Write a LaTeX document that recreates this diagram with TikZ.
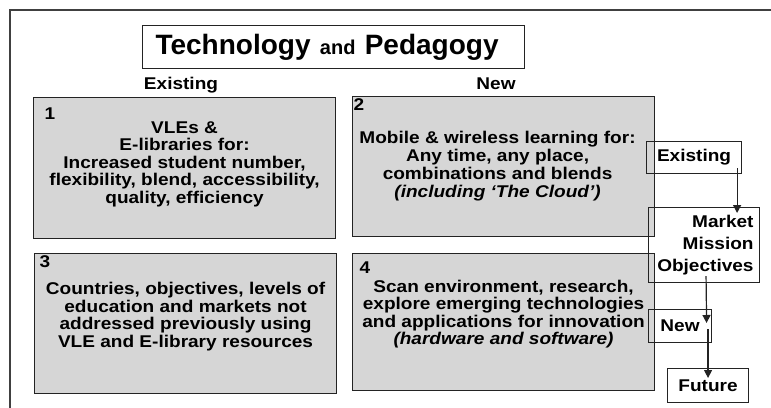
\documentclass[tikz,border=0pt]{standalone}
\usepackage{fontspec}
\setmainfont{Liberation Sans}[FakeStretch=1.12]
\newfontfamily\titlefont{Liberation Sans}
\usepackage{xcolor}
\usetikzlibrary{arrows.meta, positioning}

\definecolor{boxgray}{RGB}{214,214,214}
\definecolor{edge}{RGB}{35,35,35}

\begin{document}
\begin{tikzpicture}[
		x=1bp, y=-1bp,
		line width=1.1bp,
		every node/.style={font=\bfseries\fontsize{17bp}{17.5bp}\selectfont, inner sep=0pt},
		quad box/.style={draw=edge, fill=boxgray, anchor=north west, minimum width=302bp},
		quad text/.style={align=center},
		num/.style={anchor=base west},
		tag box/.style={draw=edge, anchor=north west},
		desc/.style={anchor=base},
		arr/.style={-{Triangle[length=8bp, width=8bp]}, line width=1.2bp, edge}
		]
	
	\useasboundingbox (0,0) rectangle (771,407);
	
	% Frame
	\draw[line width=1.8bp, draw=black!75] (10,420) |- (790,10);
	
	% Title
	\node[draw=edge, anchor=north west, minimum width=382bp, minimum height=43bp,
		text width=356bp, align=left,
		font=\titlefont\bfseries\fontsize{28bp}{30bp}\selectfont] (title) at (142,25)
		{Technology {\fontsize{20bp}{22bp}\selectfont and} Pedagogy};
	
	% Column heads
	\node[desc] (exhead) at (181,89.5) {Existing};
	\node[desc] (newhead) at (496,89.5) {New};
	
	% Quadrants
	\node[quad box, minimum height=141bp] (q1) at (33,97) {};
	\node[quad box, minimum height=140bp] (q2) at (352,96) {};
	\node[quad box, minimum height=140bp] (q3) at (34,253) {};
	\node[quad box, minimum height=137bp] (q4) at (352,253) {};
	
	\node[num] (n1) at ([xshift=11bp, yshift=-22bp]q1.north west) {1};
	\node[num] (n2) at ([xshift=1bp, yshift=-14bp]q2.north west) {2};
	\node[num] (n3) at ([xshift=5bp, yshift=-14bp]q3.north west) {3};
	\node[num] (n4) at ([xshift=7bp, yshift=-20bp]q4.north west) {4};
	
	\node[quad text] (t1) at ([yshift=4bp]q1.center)
		{VLEs \&\\E-libraries for:\\Increased student number,\\flexibility, blend, accessibility,\\quality, efficiency};
	\node[quad text, font=\bfseries\fontsize{17bp}{18bp}\selectfont] (t2) at ([xshift=-6bp]q2.center)
		{Mobile \& wireless learning for:\\Any time, any place,\\combinations and blends\\\textit{(including ‘The Cloud’)}};
	\node[quad text] (t3) at ([yshift=7bp]q3.center)
		{Countries, objectives, levels of\\education and markets not\\addressed previously using\\VLE and E-library resources};
	\node[quad text] (t4) at ([yshift=8bp]q4.center)
		{Scan environment, research,\\explore emerging technologies\\and applications for innovation\\\textit{(hardware and software)}};
	
	% Right hand chain
	\node[tag box, minimum width=95bp, minimum height=32bp] (exist) at (646,141) {Existing};
	\node[tag box, minimum width=111bp, minimum height=75bp, text width=99bp, align=right,
		font=\bfseries\fontsize{17bp}{21.7bp}\selectfont] (mkt) at (648,207) {Market\\Mission\\Objectives};
	\node[tag box, minimum width=63bp, minimum height=33bp] (new) at (648,309) {New};
	\node[tag box, minimum width=81bp, minimum height=34bp] (fut) at (667,368) {Future};
	
	\draw[arr] ([xshift=-5bp, yshift=6bp]exist.south east) -- ([xshift=-5bp, yshift=-6bp]exist.south east |- mkt.north);
	\draw[arr] ([xshift=2bp, yshift=7bp]mkt.south) -- ([xshift=-5.5bp, yshift=-14bp]new.north east);
	\draw[arr] ([yshift=-20bp]new.north east -| fut.north) -- ([yshift=-10bp]fut.north);
	
\end{tikzpicture}
\end{document}
